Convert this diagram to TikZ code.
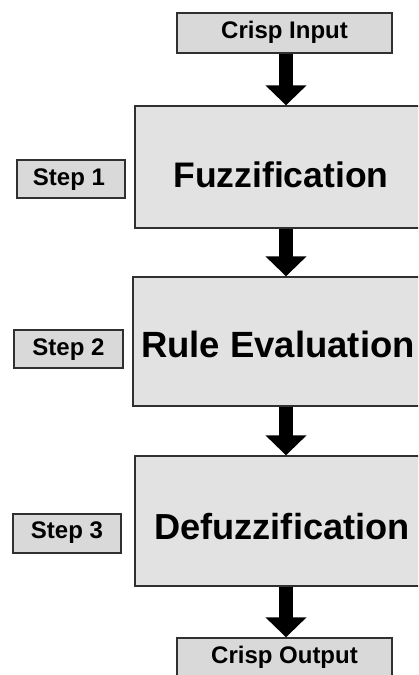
\documentclass[tikz,border=0pt]{standalone}
\usepackage{fontspec}
\setmainfont{Liberation Sans}
\usetikzlibrary{arrows.meta}
\definecolor{mainfill}{HTML}{E2E2E2}
\definecolor{smallfill}{HTML}{D9D9D9}
\definecolor{edge}{HTML}{303030}
\tikzset{
  mainbox/.style={draw=edge, line width=1.4pt, fill=mainfill, rectangle, inner sep=0pt},
  smallbox/.style={draw=edge, line width=1.4pt, fill=smallfill, rectangle, inner sep=0pt},
  bigtext/.style={anchor=base, inner sep=0pt, font=\bfseries\fontsize{36}{40}\selectfont},
  smalltext/.style={anchor=base, inner sep=0pt, font=\bfseries\fontsize{24}{28}\selectfont},
  bigarrow/.style={line width=14pt, -{Triangle[width=40pt,length=20pt]}, black}
}
\begin{document}
\begin{tikzpicture}[x=1pt,y=1pt]
\useasboundingbox (0,0) rectangle (418,-675);
\clip (0,0) rectangle (418,-675);
\fill[white] (0,0) rectangle (418,-675);
\coordinate (ax) at (286,0);
% main boxes
\node[mainbox, minimum width=295pt, minimum height=122pt] (b1) at (282.5,-167) {};
\node[mainbox, minimum width=297pt, minimum height=129pt] (b2) at (281.5,-341.5) {};
\node[mainbox, minimum width=295pt, minimum height=130pt] (b3) at (282.5,-521) {};
% input / output
\node[smallbox, minimum width=215pt, minimum height=40pt] (ci) at (284.5,-33) {};
\node[smallbox, minimum width=215pt, minimum height=52pt] (co) at (284.5,-664) {};
% step boxes
\node[smallbox, minimum width=108pt, minimum height=38pt] (s1) at (71,-179) {};
\node[smallbox, minimum width=109pt, minimum height=38pt] (s2) at (68.5,-349) {};
\node[smallbox, minimum width=108pt, minimum height=39pt] (s3) at (67,-533.5) {};
% texts
\node[bigtext, font=\bfseries\fontsize{35.5}{40}\selectfont] (t1) at (281,-187) {Fuzzification};
\node[bigtext, font=\bfseries\fontsize{36.5}{40}\selectfont] (t2) at (278,-357) {Rule Evaluation};
\node[bigtext, font=\bfseries\fontsize{36.2}{40}\selectfont] (t3) at (282,-539) {Defuzzification};
\node[smalltext] (tci) at (284.5,-38) {Crisp Input};
\node[smalltext] (tco) at (284.5,-663) {Crisp Output};
\node[smalltext] (ts1) at (69,-185) {Step 1};
\node[smalltext] (ts2) at (68.5,-355) {Step 2};
\node[smalltext] (ts3) at (67,-538) {Step 3};
% arrows
\draw[bigarrow] (ax |- ci.south) -- (ax |- b1.north);
\draw[bigarrow] (ax |- b1.south) -- (ax |- b2.north);
\draw[bigarrow] (ax |- b2.south) -- (ax |- b3.north);
\draw[bigarrow] (ax |- b3.south) -- (ax |- co.north);
\end{tikzpicture}
\end{document}
